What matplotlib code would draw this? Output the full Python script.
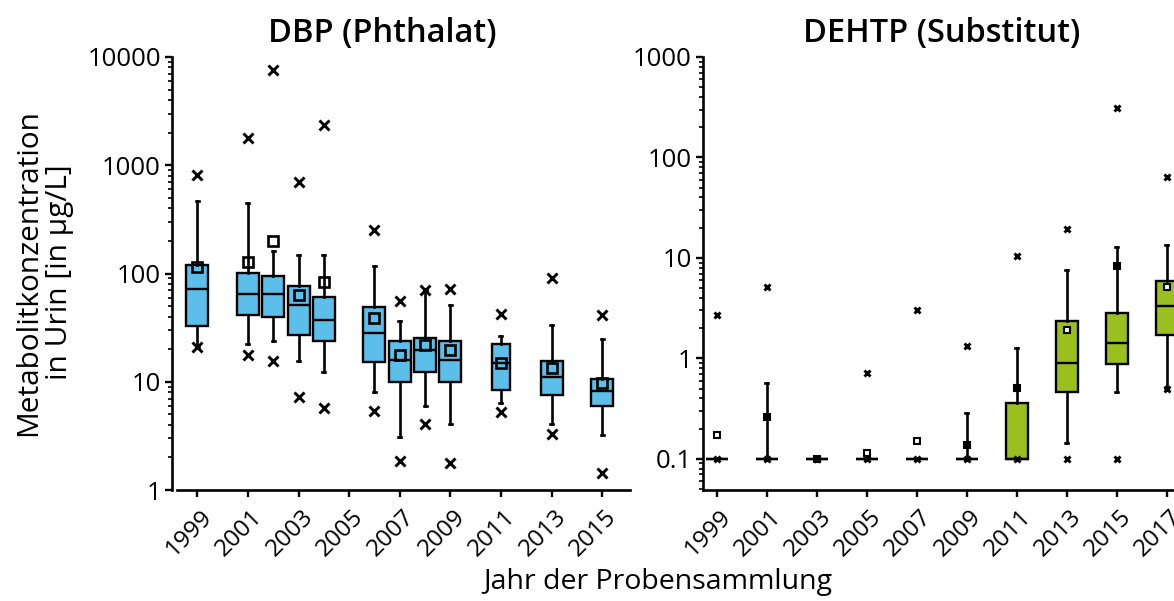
import numpy as np
import matplotlib
matplotlib.use("Agg")
import matplotlib.pyplot as plt
import matplotlib.transforms as mtransforms
from matplotlib.ticker import LogLocator, NullFormatter, FixedLocator, FixedFormatter

plt.rcParams['font.family'] = ['Open Sans', 'DejaVu Sans']

# DBP (Phthalat)
dbp_years = [1999, 2001, 2002, 2003, 2004, 2006, 2007, 2008, 2009, 2011, 2013, 2015]
dbp_q1 = [33, 41, 39.4, 26.8, 24, 15.3, 10, 12.3, 9.9, 8.4, 7.5, 6.0]
dbp_med = [72.6, 64.9, 64.9, 50.9, 37, 28.2, 15.8, 19.8, 16, 14.9, 11, 8.3]
dbp_q3 = [118.6, 100.7, 95, 77, 61.2, 49.5, 23.8, 25.4, 24, 22.5, 15.4, 10.6]
dbp_whislo = [20.8, 22.5, 23.6, 15.4, 12.4, 8.0, 3.1, 6.0, 4.1, 6.3, 4.1, 3.2]
dbp_whishi = [467, 445, 163, 147, 147, 118, 36.7, 71, 51.6, 26.7, 33.5, 24.8]
dbp_mean = [114, 128, 199, 63, 82.6, 38.5, 17.7, 22, 19.5, 15, 13.4, 9.7]
dbp_max = [813, 1780, 7530, 706, 2345, 250, 56, 71, 72, 42.6, 91, 41.4]
dbp_min = [20.8, 17.8, 15.4, 7.2, 5.7, 5.4, 1.86, 4.1, 1.77, 5.3, 3.3, 1.45]
dbp_widths = [0.87] * 9 + [0.72, 0.87, 0.87]

# DEHTP (Substitut)
dehtp_years = [1999, 2001, 2003, 2005, 2007, 2009, 2011, 2013, 2015, 2017]
dehtp_q1 = [0.1, 0.1, 0.1, 0.1, 0.1, 0.1, 0.1, 0.466, 0.877, 1.70]
dehtp_med = [0.1, 0.1, 0.1, 0.1, 0.1, 0.1, 0.1, 0.904, 1.41, 3.33]
dehtp_q3 = [0.1, 0.1, 0.1, 0.1, 0.1, 0.1, 0.357, 2.36, 2.84, 5.86]
dehtp_whislo = [0.1, 0.1, 0.1, 0.1, 0.1, 0.1, 0.1, 0.145, 0.466, 0.504]
dehtp_whishi = [0.1, 0.565, 0.1, 0.1, 0.1, 0.284, 1.27, 7.53, 12.8, 13.3]
dehtp_mean = [0.173, 0.263, 0.1, 0.114, 0.149, 0.138, 0.504, 1.91, 8.26, 5.14]
dehtp_mean_filled = [False, True, True, False, False, True, True, False, True, False]
dehtp_max = [2.69, 5.14, np.nan, 0.72, 3.02, 1.33, 10.4, 19.2, 308, 64.6]
dehtp_min = [0.1, 0.1, 0.1, 0.1, 0.1, 0.1, 0.1, 0.1, 0.1, 0.5]

blue = '#5bbfea'
green = '#9bbf1f'

fig = plt.figure(figsize=(11.74, 6.01), dpi=100)
ax1 = fig.add_axes([172 / 1174, 111 / 601, (630 - 172) / 1174, 433 / 601])
ax2 = fig.add_axes([703 / 1174, 111 / 601, (1192 - 703) / 1174, 433 / 601])


def stats(q1, med, q3, lo, hi, mx, mn):
    out = []
    for i in range(len(q1)):
        fl = [v for v in (mx[i], mn[i]) if not np.isnan(v)]
        out.append(dict(q1=q1[i], med=med[i], q3=q3[i], whislo=lo[i], whishi=hi[i], fliers=fl))
    return out


def draw(ax, st, pos, widths, color, fsize):
    ax.bxp(st, positions=pos, widths=widths, patch_artist=True, showmeans=False,
           boxprops=dict(facecolor=color, edgecolor='black', linewidth=1.7),
           medianprops=dict(color='black', linewidth=1.7),
           whiskerprops=dict(color='black', linewidth=1.9),
           capprops=dict(color='black', linewidth=1.9), capwidths=0.12,
           flierprops=dict(marker='x', markersize=fsize, markeredgewidth=2.1,
                           markeredgecolor='black'),
           manage_ticks=False)


draw(ax1, stats(dbp_q1, dbp_med, dbp_q3, dbp_whislo, dbp_whishi, dbp_max, dbp_min),
     dbp_years, dbp_widths, blue, 6.5)
ax1.plot(dbp_years, dbp_mean, ls='none', marker='s', markersize=7.5,
         markerfacecolor='none', markeredgecolor='black', markeredgewidth=1.9, zorder=5)

draw(ax2, stats(dehtp_q1, dehtp_med, dehtp_q3, dehtp_whislo, dehtp_whishi, dehtp_max, dehtp_min),
     dehtp_years, 0.86, green, 4.5)
for yr, m, f in zip(dehtp_years, dehtp_mean, dehtp_mean_filled):
    ax2.plot([yr], [m], ls='none', marker='s', markersize=5,
             markerfacecolor='black' if f else 'white', markeredgecolor='black',
             markeredgewidth=1.5, zorder=5)

shift = mtransforms.ScaledTranslation(11 / 100, 0, fig.dpi_scale_trans)

for ax, ylim, yt, ylabels, xlim, xt in [
        (ax1, (1, 10000), [1, 10, 100, 1000, 10000], ['1', '10', '100', '1000', '10000'],
         (1998.0, 2016.1), list(range(1999, 2016, 2))),
        (ax2, (0.049, 1000), [0.1, 1, 10, 100, 1000], ['0.1', '1', '10', '100', '1000'],
         (1998.45, 2018.0), list(range(1999, 2018, 2)))]:
    ax.set_yscale('log')
    ax.set_ylim(*ylim)
    ax.set_xlim(*xlim)
    ax.yaxis.set_major_locator(FixedLocator(yt))
    ax.yaxis.set_major_formatter(FixedFormatter(ylabels))
    ax.yaxis.set_minor_locator(LogLocator(base=10, subs=np.arange(2, 10)))
    ax.yaxis.set_minor_formatter(NullFormatter())
    ax.tick_params(axis='y', which='major', labelsize=18.5, length=5, width=1.7, pad=3)
    ax.tick_params(axis='y', which='minor', length=3, width=1.2)
    ax.tick_params(axis='x', length=5, width=1.7, pad=12)
    ax.set_xticks(xt)
    ax.set_xticklabels([str(x) for x in xt], rotation=45, ha='right', va='center',
                       rotation_mode='anchor', fontsize=17.5, fontweight='medium')
    for lab in ax.get_xticklabels():
        lab.set_transform(lab.get_transform() + shift)
    for lab in ax.get_yticklabels():
        lab.set_fontweight('medium')
    for s in ['top', 'right']:
        ax.spines[s].set_visible(False)
    for s in ['left', 'bottom']:
        ax.spines[s].set_linewidth(1.9)

ax1.spines['bottom'].set_bounds(1998.2, 2016.1)

fig.text(382 / 1174, 1 - 33 / 601, 'DBP (Phthalat)', fontsize=23.5,
         fontweight='semibold', ha='center', va='center')
fig.text(942 / 1174, 1 - 33 / 601, 'DEHTP (Substitut)', fontsize=23.5,
         fontweight='semibold', ha='center', va='center')
fig.text(44 / 1174, 1 - 272 / 601, 'Metabolitkonzentration\nin Urin [in µg/L]',
         rotation=90, ha='center', va='center', fontsize=21.5, fontweight='medium',
         multialignment='center', linespacing=1.05)
fig.text(658 / 1174, 1 - 582 / 601, 'Jahr der Probensammlung', ha='center', va='center',
         fontsize=20.5, fontweight='medium')

fig.savefig('out.png', dpi=100)
